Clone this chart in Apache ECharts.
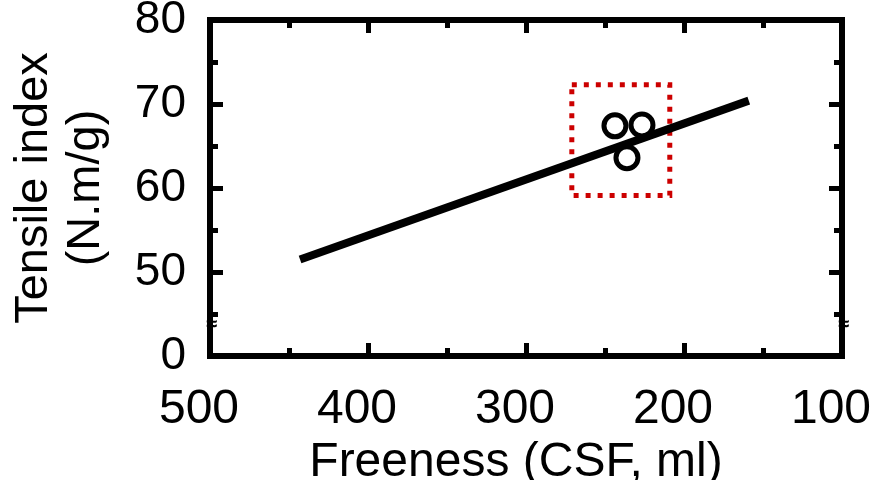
<!DOCTYPE html>
<html>
<head>
<meta charset="utf-8">
<script src="https://cdn.jsdelivr.net/npm/echarts@6/dist/echarts.min.js"></script>
<style>
  html, body { margin: 0; padding: 0; background: #fff; }
  #chart { width: 877px; height: 480px; }
</style>
</head>
<body>
<div id="chart"></div>
<script>
// fitted line (freeness, tensile index)
var fitX = [443, 159];
var fitY = [51.5, 70.4];
// measured points
var ptX = [243.7, 226.6, 236.1];
var ptY = [67.4, 67.5, 63.6];
// highlighted region
var boxX = [271, 209];
var boxY = [59.1, 72.3];
// y axis: bottom of the broken axis stands for 0
var yBreakValue = 40;

var chart = echarts.init(document.getElementById('chart'));
var font = 'Liberation Sans, Arial, sans-serif';

var tickStyle = { color: '#000', width: 5 };

function xAx(pos, showLabel) {
  return {
    type: 'value',
    position: pos,
    inverse: true,
    min: 100,
    max: 500,
    interval: 100,
    name: showLabel ? 'Freeness (CSF, ml)' : '',
    nameLocation: 'middle',
    nameGap: 46,
    nameTextStyle: { fontFamily: font, fontSize: 48, color: '#000', padding: [0, 20, 0, 0] },
    axisLine: { show: true, onZero: false, lineStyle: { color: '#000', width: 6, cap: 'square' } },
    axisTick: { show: true, inside: true, length: 13, lineStyle: tickStyle },
    minorTick: { show: true, splitNumber: 2, length: 8, lineStyle: tickStyle },
    axisLabel: { show: showLabel, margin: 30, fontFamily: font, fontSize: 48, color: '#000', padding: [0, 22, 0, 0] },
    splitLine: { show: false }
  };
}

function yAx(pos, showLabel) {
  return {
    type: 'value',
    position: pos,
    min: yBreakValue,
    max: 80,
    interval: 10,
    name: showLabel ? 'Tensile index\n(N.m/g)' : '',
    nameLocation: 'middle',
    nameGap: 98,
    nameTextStyle: { fontFamily: font, fontSize: 47, lineHeight: 52, color: '#000' },
    axisLine: { show: true, onZero: false, lineStyle: { color: '#000', width: 6, cap: 'square' } },
    axisTick: { show: true, inside: true, length: 13, lineStyle: tickStyle },
    minorTick: { show: true, splitNumber: 2, length: 8, lineStyle: tickStyle },
    axisLabel: {
      show: showLabel, margin: 24, fontFamily: font, fontSize: 46, color: '#000',
      padding: [12, 0, 0, 0],
      formatter: function (v) { return v === yBreakValue ? '0' : String(v); }
    },
    splitLine: { show: false }
  };
}

var option = {
  animation: false,
  backgroundColor: '#fff',
  grid: { left: 210, right: 35, top: 20, bottom: 124, containLabel: false, outerBoundsMode: 'none' },
  xAxis: [xAx('bottom', true), xAx('top', false)],
  yAxis: [yAx('left', true), yAx('right', false)],
  series: [
    {
      type: 'line',
      data: fitX.map(function (x, i) { return [x, fitY[i]]; }),
      symbol: 'none',
      lineStyle: { color: '#000', width: 8 },
      markArea: {
        silent: true,
        itemStyle: { color: 'rgba(0,0,0,0)', borderColor: '#cc0000', borderWidth: 5, borderType: [5, 7], opacity: 1 },
        data: [[{ coord: [boxX[0], boxY[1]] }, { coord: [boxX[1], boxY[0]] }]]
      },
      z: 2
    },
    {
      type: 'scatter',
      data: ptX.map(function (x, i) { return [x, ptY[i]]; }),
      symbol: 'circle',
      symbolSize: 22,
      itemStyle: { color: 'rgba(0,0,0,0)', borderColor: '#000', borderWidth: 5, opacity: 1 },
      z: 3
    }
  ]
};
chart.setOption(option);

// axis break marks
var pl = chart.convertToPixel({ gridIndex: 0 }, [500, 43.8]);
var pr = chart.convertToPixel({ gridIndex: 0 }, [100, 43.8]);
chart.setOption({
  graphic: [
    { type: 'text', x: pl[0] + 2, y: pl[1], style: { text: '≈', font: 'bold 20px ' + font, fill: '#000', align: 'center', verticalAlign: 'middle' } },
    { type: 'text', x: pr[0] + 2, y: pr[1], style: { text: '≈', font: 'bold 20px ' + font, fill: '#000', align: 'center', verticalAlign: 'middle' } }
  ]
});
</script>
</body>
</html>
